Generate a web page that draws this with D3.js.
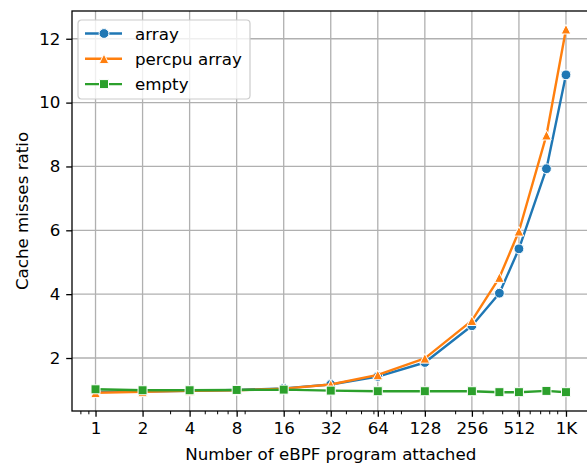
<!DOCTYPE html>
<html>
<head>
<meta charset="utf-8">
<script src="https://cdn.jsdelivr.net/npm/d3@7"></script>
<style>
  body { margin: 0; background: #fff; }
  svg { display: block; font-family: "DejaVu Sans", sans-serif; }
</style>
</head>
<body>
<svg id="chart" width="587" height="465"></svg>
<script>
// number of programs attached
const programs = [1, 2, 4, 8, 16, 32, 64, 128, 256, 384, 512, 768, 1024];
const arrayVals  = [0.94, 0.95, 0.97, 1.00, 1.05, 1.17, 1.42, 1.86, 3.01, 4.03, 5.42, 7.93, 10.87];
const percpuVals = [0.91, 0.94, 0.97, 0.99, 1.04, 1.17, 1.47, 1.99, 3.17, 4.52, 5.97, 8.98, 12.30];
const emptyVals  = [1.02, 0.99, 0.99, 1.00, 1.01, 0.98, 0.96, 0.96, 0.96, 0.93, 0.93, 0.97, 0.93];

const xTicks = [1, 2, 4, 8, 16, 32, 64, 128, 256, 512, 1024];
const xTickLabels = ["1", "2", "4", "8", "16", "32", "64", "128", "256", "512", "1K"];
const xMinor = [0.8, 0.9, 3, 5, 6, 7, 9, 20, 30, 40, 50, 60, 70, 80, 90,
  200, 300, 400, 500, 600, 700, 800, 900];
const yTicks = [2, 4, 6, 8, 10, 12];

const series = [
  { name: "array", values: arrayVals, color: "#1f77b4", marker: "circle" },
  { name: "percpu array", values: percpuVals, color: "#ff7f0e", marker: "triangle" },
  { name: "empty", values: emptyVals, color: "#2ca02c", marker: "square" }
];

const svg = d3.select("#chart");
const plotL = 72, plotR = 589.5, plotT = 11, plotB = 411;
const fontSize = 16.7;
const lw = 2.4;

const x = d3.scaleLog().base(2).domain([Math.pow(2, -0.5), Math.pow(2, 10.5)]).range([plotL, plotR]);

const allVals = arrayVals.concat(percpuVals, emptyVals);
const [ymin, ymax] = d3.extent(allVals);
const pad = (ymax - ymin) * 0.05;
const y = d3.scaleLinear().domain([ymin - pad, ymax + pad]).range([plotB, plotT]);

// grid
const grid = svg.append("g").attr("stroke", "#b0b0b0").attr("stroke-width", 1.3);
grid.selectAll(".gx").data(xTicks).join("line")
  .attr("x1", d => x(d)).attr("x2", d => x(d))
  .attr("y1", plotT).attr("y2", plotB);
grid.selectAll(".gy").data(yTicks).join("line")
  .attr("x1", plotL).attr("x2", plotR)
  .attr("y1", d => y(d)).attr("y2", d => y(d));

// markers
function markerPath(kind) {
  if (kind === "circle") return d3.symbol().type(d3.symbolCircle).size(Math.PI * 4.9 * 4.9)();
  if (kind === "square") return "M-4.5,-4.5H4.5V4.5H-4.5Z";
  return "M0,-4.8L4.8,4.8L-4.8,4.8Z";
}

function drawMarker(g, kind, color) {
  g.append("path")
    .attr("d", markerPath(kind))
    .attr("fill", color)
    .attr("stroke", "#fff")
    .attr("stroke-width", 1);
}

const line = d3.line().x(d => x(d[0])).y(d => y(d[1]));

series.forEach(s => {
  const pts = programs.map((p, i) => [p, s.values[i]]);
  svg.append("path")
    .datum(pts)
    .attr("d", line)
    .attr("fill", "none")
    .attr("stroke", s.color)
    .attr("stroke-width", lw)
    .attr("stroke-linejoin", "round");
  pts.forEach(p => {
    const g = svg.append("g").attr("transform", `translate(${x(p[0])},${y(p[1])})`);
    drawMarker(g, s.marker, s.color);
  });
});

// axes
const xAxis = d3.axisBottom(x).tickValues(xTicks)
  .tickFormat((d, i) => xTickLabels[i]).tickSize(5.8).tickPadding(5);
const gx = svg.append("g").attr("transform", `translate(0,${plotB})`).call(xAxis);
gx.select(".domain").remove();
gx.selectAll("text").attr("font-size", fontSize).attr("font-family", "DejaVu Sans").attr("fill", "#000");
gx.selectAll("line").attr("stroke-width", 1.3);

const xAxisMinor = d3.axisBottom(x).tickValues(xMinor).tickFormat("").tickSize(3.3);
const gxm = svg.append("g").attr("transform", `translate(0,${plotB})`).call(xAxisMinor);
gxm.select(".domain").remove();
gxm.selectAll("line").attr("stroke-width", 1);

const yAxis = d3.axisLeft(y).tickValues(yTicks).tickSize(5.8).tickPadding(5.8);
const gy = svg.append("g").attr("transform", `translate(${plotL},0)`).call(yAxis);
gy.select(".domain").remove();
gy.selectAll("text").attr("font-size", fontSize).attr("font-family", "DejaVu Sans").attr("fill", "#000");
gy.selectAll("line").attr("stroke-width", 1.3);

// spines
svg.append("rect")
  .attr("x", plotL).attr("y", plotT)
  .attr("width", plotR - plotL).attr("height", plotB - plotT)
  .attr("fill", "none").attr("stroke", "#000").attr("stroke-width", 1.3);

// axis labels
svg.append("text")
  .attr("x", (plotL + plotR) / 2).attr("y", 460)
  .attr("text-anchor", "middle").attr("font-size", fontSize)
  .text("Number of eBPF program attached");
svg.append("text")
  .attr("transform", `translate(28,${(plotT + plotB) / 2}) rotate(-90)`)
  .attr("text-anchor", "middle").attr("font-size", fontSize)
  .text("Cache misses ratio");

// legend
const legend = svg.append("g").attr("transform", "translate(78,20)");
legend.append("rect")
  .attr("width", 172).attr("height", 79).attr("rx", 3.5)
  .attr("fill", "#fff").attr("fill-opacity", 0.8)
  .attr("stroke", "#cccccc").attr("stroke-width", 1.2);
series.forEach((s, i) => {
  const row = legend.append("g").attr("transform", `translate(0,${13.5 + i * 25.3})`);
  row.append("line").attr("x1", 7).attr("x2", 44).attr("y1", 0).attr("y2", 0)
    .attr("stroke", s.color).attr("stroke-width", lw);
  const m = row.append("g").attr("transform", "translate(26,0)");
  drawMarker(m, s.marker, s.color);
  row.append("text").attr("x", 57).attr("y", 6)
    .attr("font-size", fontSize).text(s.name);
});
</script>
</body>
</html>
